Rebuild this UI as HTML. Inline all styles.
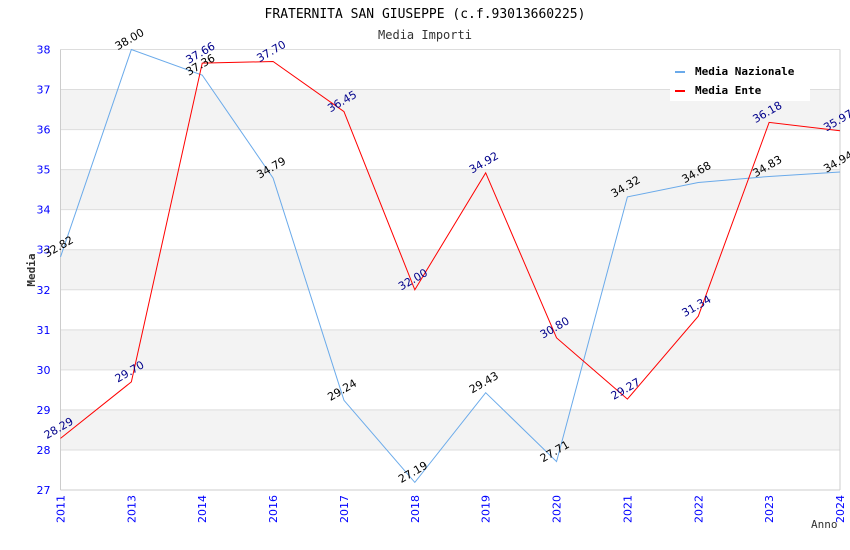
<!DOCTYPE html>
<html><head><meta charset="utf-8"><style>body{margin:0;background:#fff}svg{display:block}</style></head>
<body>
<svg id="chart" width="850" height="550" xmlns="http://www.w3.org/2000/svg" font-family="'DejaVu Sans Mono','Liberation Mono',monospace">
<text x="425" y="18" text-anchor="middle" font-size="13" fill="#000">FRATERNITA SAN GIUSEPPE (c.f.93013660225)</text>
<text x="425" y="39" text-anchor="middle" font-size="12" fill="#333">Media Importi</text>
<g id="bands"></g><g id="grid"></g><g id="axes" font-family="'DejaVu Sans','Liberation Sans',sans-serif"></g><g id="series"></g><g id="labels" font-family="'DejaVu Sans','Liberation Sans',sans-serif"></g>
<text transform="translate(35,270) rotate(-90)" text-anchor="middle" font-size="11" font-weight="bold" fill="#333">Media</text>
<text x="811" y="528" font-size="11" fill="#333">Anno</text>
<g>
<rect x="670" y="60" width="140" height="41" fill="#fff"/>
<rect x="675" y="71" width="10" height="2" fill="#6aaaea"/>
<text x="695" y="75" font-size="11" font-weight="bold" fill="#000">Media Nazionale</text>
<rect x="675" y="90" width="10" height="2" fill="#f00"/>
<text x="695" y="94" font-size="11" font-weight="bold" fill="#000">Media Ente</text>
</g>
</svg>
<script>
const categories=["2011","2013","2014","2016","2017","2018","2019","2020","2021","2022","2023","2024"];
const nazionale=[32.82,38.00,37.36,34.79,29.24,27.19,29.43,27.71,34.32,34.68,34.83,34.94];
const ente=[28.29,29.70,37.66,37.70,36.45,32.00,34.92,30.80,29.27,31.34,36.18,35.97];
const yTicks=[27,28,29,30,31,32,33,34,35,36,37,38];
const NS="http://www.w3.org/2000/svg";
const L=60.5,R=840,T=49.5,B=490,yMin=27,yMax=38;
const x=i=>L+i*(R-L)/(categories.length-1);
const y=v=>B-(v-yMin)*(B-T)/(yMax-yMin);
function mk(tag,attrs,parent,text){const e=document.createElementNS(NS,tag);for(const k in attrs)e.setAttribute(k,attrs[k]);if(text!==undefined)e.textContent=text;document.getElementById(parent).appendChild(e);return e;}
for(let v=yMin;v<yMax;v++){if(v%2===0){const b=mk('rect',{x:L,y:y(v+1),width:R-L,height:y(v)-y(v+1),fill:'#f3f3f3'},'bands');

}}
yTicks.forEach(v=>{const g=mk('line',{x1:L,x2:R,y1:y(v),y2:y(v),stroke:'#ddd'},'grid');


const t=mk('text',{x:L-10,y:y(v)+4,'text-anchor':'end','font-size':11,fill:'#00f'},'axes',String(v));

});
mk('line',{x1:L,x2:L,y1:T,y2:B,stroke:'#ccc'},'axes');
mk('line',{x1:R,x2:R,y1:T,y2:B,stroke:'#ccc'},'axes');
mk('line',{x1:L,x2:R,y1:B,y2:B,stroke:'#ccc'},'axes');
categories.forEach((c,i)=>{const t=mk('text',{transform:`translate(${x(i)+4},${B+5}) rotate(-90)`,'text-anchor':'end','font-size':11,fill:'#00f'},'axes',c);

});
function series(data,color,lblColor,name){
const p=mk('polyline',{points:data.map((v,i)=>x(i)+','+y(v)).join(' '),fill:'none',stroke:color,'stroke-width':1},'series');


data.forEach((v,i)=>{const t=mk('text',{transform:`translate(${x(i)},${y(v)-7}) rotate(-30)`,'text-anchor':'middle','font-size':11,fill:lblColor},'labels',v.toFixed(2));

});}
series(nazionale,'#6aaaea','#000','nazionale');
series(ente,'#f00','#00008b','ente');
</script>
</body></html>
